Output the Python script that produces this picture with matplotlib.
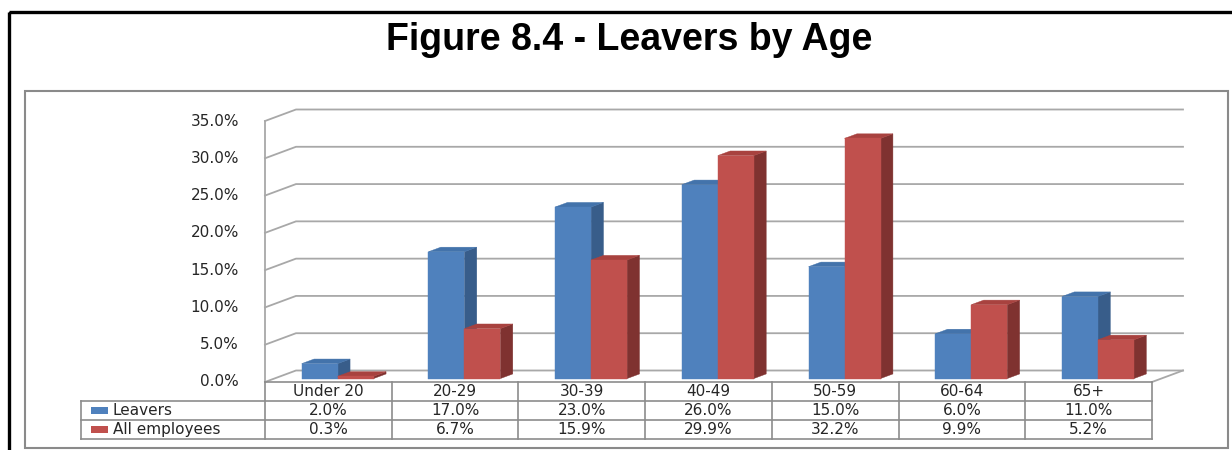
import matplotlib
matplotlib.use("Agg")
import matplotlib.pyplot as plt
from matplotlib.patches import Polygon, Rectangle

# Data
categories = ["Under 20", "20-29", "30-39", "40-49", "50-59", "60-64", "65+"]
leavers = [2.0, 17.0, 23.0, 26.0, 15.0, 6.0, 11.0]
all_employees = [0.3, 6.7, 15.9, 29.9, 32.2, 9.9, 5.2]
series_names = ["Leavers", "All employees"]
y_ticks = [0, 5, 10, 15, 20, 25, 30, 35]
title = "Figure 8.4 - Leavers by Age"

# Canvas
W, H = 1232, 450
fig = plt.figure(figsize=(W / 100, H / 100), dpi=100)
fig.patch.set_facecolor("white")


def fx(px):
    return px / W


def fy(py):
    return 1 - py / H


# Layout (pixels)
FRONT_L, FRONT_R = 265, 1152
FLOOR_Y, TOP_Y = 382, 121
n = len(categories)
ymax = y_ticks[-1]
col_px = (FRONT_R - FRONT_L) / n
unit_px = (FLOOR_Y - TOP_Y) / ymax

# Oblique depth vector, expressed in data units
DX = 31 / col_px
DY = 11.5 / unit_px
D0, D1 = 0.30, 0.70          # bar depth range within the box
BW = 36 / col_px             # width of one bar

text_color = "#262626"
grid_color = "#a8a8a8"
tick_font = dict(family="DejaVu Sans", size=11, color=text_color)

# Frames
fig.add_artist(Rectangle((fx(9), fy(12)), 1.2, -1.2, transform=fig.transFigure,
                         fill=False, edgecolor="black", lw=2.4))
fig.add_artist(Rectangle((fx(25), fy(448)), fx(1228) - fx(25), fy(91) - fy(448),
                         transform=fig.transFigure, fill=False,
                         edgecolor="#8a8a8a", lw=1.5))

fig.text(fx(629), fy(50), title, ha="center", va="baseline",
         family="Liberation Sans", weight="bold", size=27, color="black")

# Plot area
ax = fig.add_axes([fx(FRONT_L), fy(FLOOR_Y),
                   (FRONT_R - FRONT_L) / W, (FLOOR_Y - TOP_Y) / H])
ax.set_xlim(0, n)
ax.set_ylim(0, ymax)
ax.axis("off")

for v in y_ticks:
    ax.plot([0, DX, n + DX], [v, v + DY, v + DY], color=grid_color, lw=1.3,
            clip_on=False, zorder=1, solid_joinstyle="miter")
    ax.text(-26 / col_px, v, f"{v:.1f}%", ha="right", va="center", **tick_font)
ax.plot([0, 0], [0, ymax], color=grid_color, lw=1.3, clip_on=False, zorder=1)
ax.plot([n, n + DX], [0, DY], color=grid_color, lw=1.3, clip_on=False, zorder=1)


def pt(x, y, d):
    return (x + d * DX, y + d * DY)


series = [
    (leavers, ("#4f81bd", "#385d8a", "#4373ab")),
    (all_employees, ("#c0504d", "#7f3230", "#a8423f")),
]

z = 2
for i in range(n):
    c = i + 0.5
    for j, (vals, (c_front, c_side, c_top)) in enumerate(series):
        x0 = c - BW + j * BW
        x1 = x0 + BW
        v = vals[i]
        side = [pt(x1, 0, D0), pt(x1, 0, D1), pt(x1, v, D1), pt(x1, v, D0)]
        top = [pt(x0, v, D0), pt(x1, v, D0), pt(x1, v, D1), pt(x0, v, D1)]
        front = [pt(x0, 0, D0), pt(x1, 0, D0), pt(x1, v, D0), pt(x0, v, D0)]
        for poly, col in ((side, c_side), (top, c_top), (front, c_front)):
            ax.add_patch(Polygon(poly, closed=True, facecolor=col,
                                 edgecolor=col, lw=0.3, clip_on=False, zorder=z))
            z += 1

# Data table
TAB_L, TAB_T, TAB_B = 81, 382, 439
tax = fig.add_axes([fx(TAB_L), fy(TAB_B), (FRONT_R - TAB_L) / W, (TAB_B - TAB_T) / H])
xl = (TAB_L - FRONT_L) / col_px
tax.set_xlim(xl, n)
tax.set_ylim(3, 0)
tax.axis("off")

line_kw = dict(color="#8c8c8c", lw=1.2, clip_on=False, solid_capstyle="projecting")
tax.plot([0, n], [0, 0], **line_kw)
for r in (1, 2, 3):
    tax.plot([xl, n], [r, r], **line_kw)
tax.plot([xl, xl], [1, 3], **line_kw)
for k in range(n + 1):
    tax.plot([k, k], [0, 3], **line_kw)

table_font = dict(family="DejaVu Sans", size=11, color=text_color)
for i, cat in enumerate(categories):
    tax.text(i + 0.5, 0.5, cat, ha="center", va="center", **table_font)
    tax.text(i + 0.5, 1.5, f"{leavers[i]:.1f}%", ha="center", va="center", **table_font)
    tax.text(i + 0.5, 2.5, f"{all_employees[i]:.1f}%", ha="center", va="center", **table_font)

key_x0 = (91 - FRONT_L) / col_px
key_w = 17 / col_px
for r, (name, (_, (c_front, _, _))) in enumerate(zip(series_names, series)):
    tax.add_patch(Rectangle((key_x0, r + 1.5 - 0.19), key_w, 0.38,
                            facecolor=c_front, edgecolor="none", clip_on=False))
    tax.text((113 - FRONT_L) / col_px, r + 1.5, name, ha="left", va="center", **table_font)

fig.savefig("out.png", dpi=100)
